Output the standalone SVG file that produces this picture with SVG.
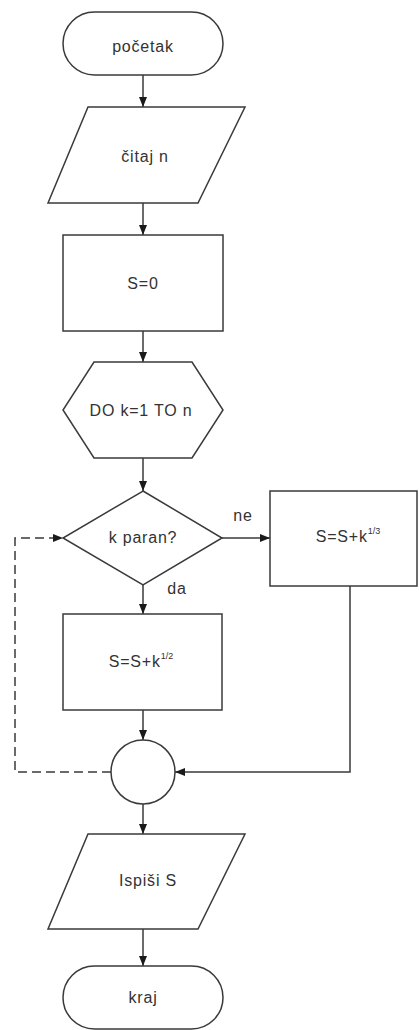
<svg xmlns="http://www.w3.org/2000/svg" width="419" height="1030" viewBox="0 0 419 1030">
<style>
.s{fill:#fff;stroke:#3a3a3a;stroke-width:1.5}
.t{font-family:"Liberation Sans",Arial,sans-serif;font-size:16px;fill:#333;text-anchor:middle;letter-spacing:0.8px}
.sup{font-size:9px;letter-spacing:0}
.c{fill:none;stroke:#3a3a3a;stroke-width:1.5}
.d{stroke-dasharray:9 5}
</style>
<defs>
<marker id="a" markerWidth="10" markerHeight="10" refX="10" refY="5" orient="auto" markerUnits="userSpaceOnUse">
<path d="M0,1 L10,5 L0,9 Z" fill="#1a1a1a"/>
</marker>
</defs>
<rect width="419" height="1030" fill="#fff"/>
<g id="connectors">
<line class="c" x1="143" y1="75" x2="143" y2="107" marker-end="url(#a)"/>
<line class="c" x1="143" y1="203" x2="143" y2="235" marker-end="url(#a)"/>
<line class="c" x1="143" y1="331" x2="143" y2="362" marker-end="url(#a)"/>
<line class="c" x1="143" y1="458" x2="143" y2="491" marker-end="url(#a)"/>
<line class="c" x1="222" y1="538" x2="270" y2="538" marker-end="url(#a)"/>
<line class="c" x1="143" y1="585" x2="143" y2="614" marker-end="url(#a)"/>
<line class="c" x1="143" y1="710" x2="143" y2="740" marker-end="url(#a)"/>
<polyline class="c" points="350,586 350,772 175,772" marker-end="url(#a)"/>
<polyline class="c d" points="111,772 15,772 15,538 63,538" marker-end="url(#a)"/>
<line class="c" x1="143" y1="804" x2="143" y2="834" marker-end="url(#a)"/>
<line class="c" x1="143" y1="929" x2="143" y2="966" marker-end="url(#a)"/>
<text class="t" x="243" y="521">ne</text>
<text class="t" x="177" y="594">da</text>
</g>
<g id="start">
<rect class="s" x="63" y="12" width="160" height="63" rx="31.5"/>
<text class="t" x="143" y="52">početak</text>
</g>
<g id="read">
<polygon class="s" points="88,107 245,107 198,203 48,203"/>
<text class="t" x="145" y="162">čitaj n</text>
</g>
<g id="init">
<rect class="s" x="63" y="235" width="160" height="96"/>
<text class="t" x="143" y="289">S=0</text>
</g>
<g id="loop">
<polygon class="s" points="94,362 192,362 223,410 192,458 94,458 63,410"/>
<text class="t" x="141" y="416">DO k=1 TO n</text>
</g>
<g id="decision">
<polygon class="s" points="143,491 222,538 143,585 63,538"/>
<text class="t" x="143" y="543">k paran?</text>
</g>
<g id="odd">
<rect class="s" x="270" y="491" width="147" height="95"/>
<text class="t" x="348" y="542">S=S+k<tspan class="sup" dy="-8">1/3</tspan></text>
</g>
<g id="even">
<rect class="s" x="63" y="614" width="159" height="96"/>
<text class="t" x="141" y="667">S=S+k<tspan class="sup" dy="-8">1/2</tspan></text>
</g>
<g id="join">
<circle class="s" cx="143" cy="772" r="32"/>
</g>
<g id="print">
<polygon class="s" points="88,834 245,834 198,929 48,929"/>
<text class="t" x="148" y="886">Ispiši S</text>
</g>
<g id="end">
<rect class="s" x="63" y="966" width="160" height="63" rx="31.5"/>
<text class="t" x="143" y="1003">kraj</text>
</g>
</svg>
